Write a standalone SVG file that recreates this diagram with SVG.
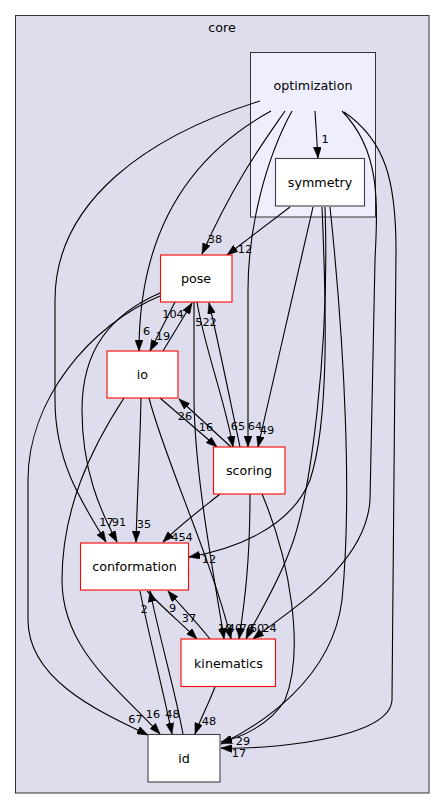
<svg xmlns="http://www.w3.org/2000/svg" width="445" height="809" viewBox="0 0 445 809">
<defs>
<marker id="ah" viewBox="0 0 11 8" refX="11" refY="4" markerWidth="11" markerHeight="8" orient="auto" markerUnits="userSpaceOnUse">
<path d="M0,0 L11,4 L0,8 z" fill="#000" stroke="#000" stroke-width="0.5"/>
</marker>
<style>
.e{fill:none;stroke:#000;stroke-width:1.1;marker-end:url(#ah)}
.el{font-family:"DejaVu Sans","Liberation Sans",sans-serif;font-size:11.3px;fill:#000;text-anchor:middle}
.nl{font-family:"DejaVu Sans","Liberation Sans",sans-serif;font-size:12.7px;fill:#000;text-anchor:middle}
.red{fill:#fff;stroke:#ff0000;stroke-width:1.1}
.plain{fill:#fff;stroke:#404040;stroke-width:1.1}
</style>
</defs>
<rect width="445" height="809" fill="#fff"/>
<g id="cluster-core">
<rect x="15.5" y="15.5" width="413.5" height="777.5" fill="#ddddee" stroke="#333" stroke-width="1"/>
<text class="nl" x="222" y="32">core</text>
</g>
<g id="cluster-optimization">
<rect x="250.5" y="52.5" width="125" height="164.5" fill="#eeeeff" stroke="#333" stroke-width="1"/>
<text class="nl" x="313" y="90">optimization</text>
</g>
<g id="connectors">
<path class="e" d="M315,111 C316,125 317,140 318,158"/>
<path class="e" d="M285,111 C265,140 235,180 202,254"/>
<path class="e" d="M271,111 C200,150 139,220 139,351"/>
<path class="e" d="M260,101 C150,135 55,200 55,300 L55,400 C55,460 80,500 106,542"/>
<path class="e" d="M292,111 C265,160 248,230 248,290 L248,447"/>
<path class="e" d="M342,111 C380,150 378,200 375,260 L370,500 C366,565 290,610 253,639"/>
<path class="e" d="M344,112 C385,140 396,180 396,250 L392,700 C390,740 260,750 221,748"/>
<path class="e" d="M290,207 L227,255"/>
<path class="e" d="M313,207 L258,447"/>
<path class="e" d="M322,207 C326,300 330,420 310,480 C290,530 230,550 189,557"/>
<path class="e" d="M325,207 C330,350 310,500 290,550 C275,590 255,620 246,639"/>
<path class="e" d="M330,207 C345,350 352,500 342,600 C332,680 260,725 221,744"/>
<path class="e" d="M175,302 L150,351"/>
<path class="e" d="M197,302 C205,350 225,400 233,447"/>
<path class="e" d="M160,293 C110,315 82,350 82,410 C82,470 100,510 117,542"/>
<path class="e" d="M160,296 C90,325 28,400 28,480 L28,620 C28,680 100,712 148,735"/>
<path class="e" d="M194,302 L194,400 C195,480 215,580 224,639"/>
<path class="e" d="M163,351 L192,303"/>
<path class="e" d="M141,398 C140,450 137,500 136,542"/>
<path class="e" d="M160,398 L217,447"/>
<path class="e" d="M124,398 C90,450 62,510 62,580 C62,650 120,690 160,734"/>
<path class="e" d="M149,398 C165,460 212,560 231,639"/>
<path class="e" d="M240,447 C230,400 218,340 209,303"/>
<path class="e" d="M231,447 L179,399"/>
<path class="e" d="M220,494 C200,510 180,525 163,542"/>
<path class="e" d="M250,494 C250,560 245,600 239,639"/>
<path class="e" d="M262,494 C290,560 305,650 285,700 C270,725 240,738 221,742"/>
<path class="e" d="M140,591 C150,640 163,690 172,734"/>
<path class="e" d="M183,734 C175,690 160,640 150,591"/>
<path class="e" d="M147,591 C165,610 183,625 197,639"/>
<path class="e" d="M210,639 C195,620 180,605 168,591"/>
<path class="e" d="M215,687 C208,705 200,720 195,734"/>
</g>
<g id="edge-labels">
<text class="el" x="325" y="143">1</text>
<text class="el" x="215" y="243">38</text>
<text class="el" x="146.5" y="335">6</text>
<text class="el" x="106.5" y="526">17</text>
<text class="el" x="255" y="430">64</text>
<text class="el" x="269.5" y="632">24</text>
<text class="el" x="239" y="757">17</text>
<text class="el" x="243" y="745">29</text>
<text class="el" x="245" y="253">12</text>
<text class="el" x="267" y="434">49</text>
<text class="el" x="209" y="563">12</text>
<text class="el" x="257" y="632">60</text>
<text class="el" x="163" y="340">19</text>
<text class="el" x="238" y="430">65</text>
<text class="el" x="119" y="526">91</text>
<text class="el" x="135.5" y="723">67</text>
<text class="el" x="225" y="632">10</text>
<text class="el" x="173" y="318">104</text>
<text class="el" x="144" y="528">35</text>
<text class="el" x="206" y="431">16</text>
<text class="el" x="153" y="718">16</text>
<text class="el" x="235" y="632">40</text>
<text class="el" x="206" y="326">522</text>
<text class="el" x="185" y="420">26</text>
<text class="el" x="182" y="541">454</text>
<text class="el" x="247" y="632">76</text>
<text class="el" x="172.5" y="718">48</text>
<text class="el" x="144" y="613">2</text>
<text class="el" x="189" y="622">37</text>
<text class="el" x="172.5" y="612">9</text>
<text class="el" x="209" y="725">48</text>
</g>
<g id="node-symmetry">
<rect class="plain" x="275.5" y="158.5" width="89" height="47.5" stroke="#000"/>
<text class="nl" x="320" y="186.5">symmetry</text>
</g>
<g id="node-pose">
<rect class="red" x="160.5" y="255" width="71.5" height="47"/>
<text class="nl" x="196" y="283">pose</text>
</g>
<g id="node-io">
<rect class="red" x="107" y="351" width="71" height="47"/>
<text class="nl" x="142.5" y="379">io</text>
</g>
<g id="node-scoring">
<rect class="red" x="213.5" y="447" width="71.5" height="47"/>
<text class="nl" x="249" y="475">scoring</text>
</g>
<g id="node-conformation">
<rect class="red" x="80.5" y="543" width="108" height="47"/>
<text class="nl" x="134.5" y="571">conformation</text>
</g>
<g id="node-kinematics">
<rect class="red" x="181" y="639" width="94.5" height="47.5"/>
<text class="nl" x="228.5" y="667.5">kinematics</text>
</g>
<g id="node-id">
<rect class="plain" x="148" y="734.5" width="72" height="47.5"/>
<text class="nl" x="184" y="762.5">id</text>
</g>
</svg>
